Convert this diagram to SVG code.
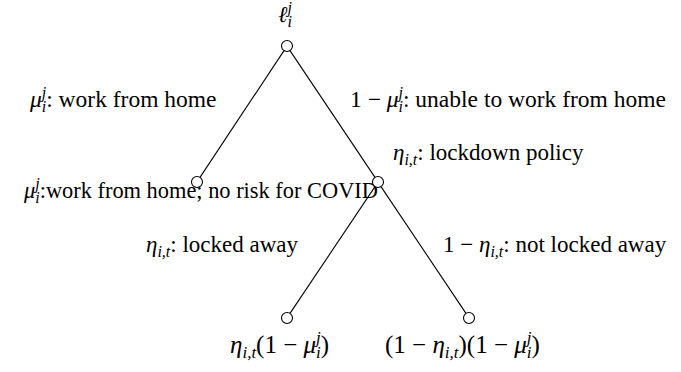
<svg xmlns="http://www.w3.org/2000/svg" width="681" height="372" viewBox="0 0 681 372">
<style>
.n{fill:#fff;stroke:#000;stroke-width:1.1}
.e{stroke:#000;stroke-width:1.1;fill:none}
.m{font-style:italic}
.s{font-size:16px;font-style:italic}
.b{font-size:25px}
.b .s{font-size:17px}
</style>
<rect width="681" height="372" fill="#fff"/>
<g font-family="Liberation Serif, DejaVu Serif, serif" font-size="23" fill="#000">
<g id="connectors">
<line class="e" x1="284" y1="50.6" x2="200" y2="177.4"/>
<line class="e" x1="290" y1="50.6" x2="375" y2="177.4"/>
<line class="e" x1="375" y1="186.6" x2="290" y2="313.4"/>
<line class="e" x1="381" y1="186.6" x2="466" y2="313.4"/>
<text x="30" y="107" font-size="23.5"><tspan class="m">μ</tspan><tspan class="s" dy="-9">j</tspan><tspan class="s" dx="-4.5" dy="14">i</tspan><tspan dy="-5">: work from home</tspan></text>
<text x="350" y="107" font-size="23.5">1 − <tspan class="m">μ</tspan><tspan class="s" dy="-9">j</tspan><tspan class="s" dx="-4.5" dy="14">i</tspan><tspan dy="-5">: unable to work from home</tspan></text>
<text x="393" y="160"><tspan class="m">η</tspan><tspan class="s" dy="5">i,t</tspan><tspan dy="-5">: lockdown policy</tspan></text>
<text x="146" y="252"><tspan class="m">η</tspan><tspan class="s" dy="5">i,t</tspan><tspan dy="-5">: locked away</tspan></text>
<text x="443" y="252">1 − <tspan class="m">η</tspan><tspan class="s" dy="5">i,t</tspan><tspan dy="-5">: not locked away</tspan></text>
</g>
<g id="root">
<circle class="n" cx="287" cy="46" r="5.5"/>
<text x="278" y="22"><tspan class="m">ℓ</tspan><tspan class="s" dy="-9">j</tspan><tspan class="s" dx="-4.5" dy="14">i</tspan></text>
</g>
<g id="home">
<circle class="n" cx="197" cy="182" r="5.5"/>
<text x="24" y="198" font-size="22.4"><tspan class="m">μ</tspan><tspan class="s" dy="-9">j</tspan><tspan class="s" dx="-4.5" dy="14">i</tspan><tspan dy="-5">:work from home; no risk for COVID</tspan></text>
</g>
<g id="unable">
<circle class="n" cx="378" cy="182" r="5.5"/>
</g>
<g id="locked">
<circle class="n" cx="287" cy="318" r="5.5"/>
<text class="b" x="230" y="353"><tspan class="m">η</tspan><tspan class="s" dy="5">i,t</tspan><tspan dy="-5">(1 − </tspan><tspan class="m">μ</tspan><tspan class="s" dy="-10">j</tspan><tspan class="s" dx="-4.8" dy="15">i</tspan><tspan dy="-5">)</tspan></text>
</g>
<g id="notlocked">
<circle class="n" cx="469" cy="318" r="5.5"/>
<text class="b" x="385" y="353">(1 − <tspan class="m">η</tspan><tspan class="s" dy="5">i,t</tspan><tspan dy="-5">)(1 − </tspan><tspan class="m">μ</tspan><tspan class="s" dy="-10">j</tspan><tspan class="s" dx="-4.8" dy="15">i</tspan><tspan dy="-5">)</tspan></text>
</g>
</g>
</svg>
